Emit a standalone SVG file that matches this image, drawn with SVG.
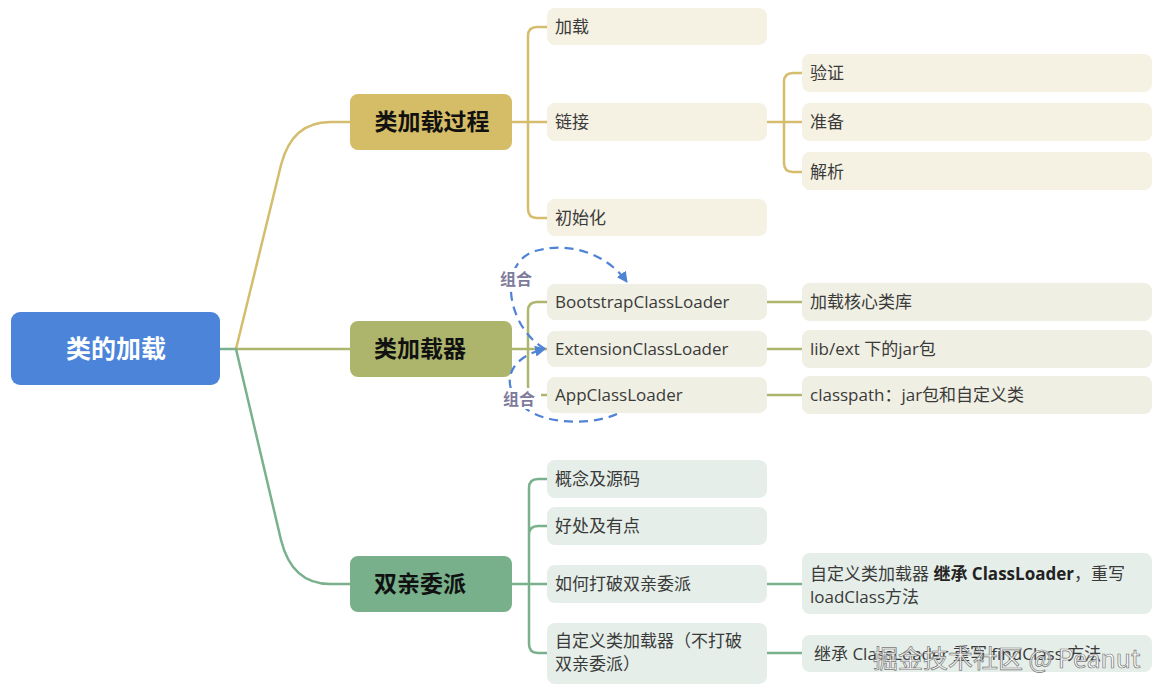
<svg xmlns="http://www.w3.org/2000/svg" width="1165" height="691" viewBox="0 0 1165 691">
<style>
.t{font-family:"Open Sans","Noto Sans CJK SC",sans-serif;font-size:17px;fill:#3a3a3a}
.h{font-family:"Noto Sans CJK SC","Noto Sans",sans-serif;font-size:23px;font-weight:bold;fill:#111}
.ln{fill:none;stroke-width:2.5;stroke-linecap:round}
.y{stroke:#D4BD6C}.o{stroke:#AEB56D}.g{stroke:#79B18C}
.cy{fill:#F5F1E3}.co{fill:#EFEFE3}.cg{fill:#E5EEE8}
.rel{fill:none;stroke:#4F83D6;stroke-width:2.2;stroke-dasharray:9 6}
.lb{font-family:"Noto Sans CJK SC",sans-serif;font-size:16px;font-weight:bold;fill:#7E7A9C}
</style>
<defs>
<marker id="ah" viewBox="0 0 10 10" refX="9" refY="5" markerWidth="5" markerHeight="5" orient="auto" markerUnits="strokeWidth">
<path d="M0 0L10 5L0 10z" fill="#4F83D6"/>
</marker>
</defs>
<rect width="1165" height="691" fill="#fff"/>
<g id="connectors">
<path class="ln g" d="M220 349H236"/>
<path class="ln y" d="M236 349L281 165Q292 122 330 122H350"/>
<path class="ln o" d="M236 349H350"/>
<path class="ln g" d="M236 349L281 540Q292 584 330 584H350"/>
<path class="ln y" d="M512 122H547M547 27H537Q528 27 528 36V209Q528 218 537 218H547"/>
<path class="ln y" d="M767 122H802M802 73H793Q784 73 784 82V163Q784 172 793 172H802"/>
<path class="ln o" d="M512 349H547M547 302H537Q528 302 528 311V386Q528 395 537 395H547"/>
<path class="ln o" d="M767 302H802M767 349H802M767 395H802"/>
<path class="ln g" d="M512 584H547M547 479H538Q529 479 529 488V644Q529 653 538 653H547M529 535Q529 526 538 526H547"/>
<path class="ln g" d="M767 584H802M767 653H802"/>
</g>
<g id="root"><rect x="11" y="312" width="209" height="73" rx="9" fill="#4C84DA"/><text x="116" y="358" text-anchor="middle" font-family="Noto Sans CJK SC,sans-serif" font-size="25" font-weight="bold" fill="#fff">类的加载</text></g>
<g id="n-process"><rect x="350" y="94" width="162" height="56" rx="8" fill="#D5BC67"/><text class="h" x="432" y="130" text-anchor="middle">类加载过程</text></g>
<g id="n-loader"><rect x="350" y="321" width="162" height="56" rx="8" fill="#ADB56C"/><text class="h" x="420" y="357" text-anchor="middle">类加载器</text></g>
<g id="n-parent"><rect x="350" y="556" width="162" height="56" rx="8" fill="#77B08A"/><text class="h" x="420" y="592" text-anchor="middle">双亲委派</text></g>

<g id="n-load"><rect class="cy" x="547" y="8" width="220" height="37" rx="8"/><text class="t" x="555" y="33">加载</text></g>
<g id="n-link"><rect class="cy" x="547" y="103" width="220" height="38" rx="8"/><text class="t" x="555" y="128">链接</text></g>
<g id="n-init"><rect class="cy" x="547" y="199" width="220" height="37" rx="8"/><text class="t" x="555" y="224">初始化</text></g>
<g id="n-verify"><rect class="cy" x="802" y="54" width="350" height="38" rx="8"/><text class="t" x="810" y="79">验证</text></g>
<g id="n-prepare"><rect class="cy" x="802" y="103" width="350" height="38" rx="8"/><text class="t" x="810" y="128">准备</text></g>
<g id="n-resolve"><rect class="cy" x="802" y="152" width="350" height="38" rx="8"/><text class="t" x="810" y="178">解析</text></g>

<g id="n-boot"><rect class="co" x="547" y="284" width="220" height="36" rx="8"/><text class="t" x="555" y="308">BootstrapClassLoader</text></g>
<g id="n-ext"><rect class="co" x="547" y="331" width="220" height="36" rx="8"/><text class="t" x="555" y="355">ExtensionClassLoader</text></g>
<g id="n-app"><rect class="co" x="547" y="377" width="220" height="36" rx="8"/><text class="t" x="555" y="401">AppClassLoader</text></g>
<g id="n-core"><rect class="co" x="802" y="283" width="350" height="38" rx="8"/><text class="t" x="810" y="308">加载核心类库</text></g>
<g id="n-libext"><rect class="co" x="802" y="330" width="350" height="38" rx="8"/><text class="t" x="810" y="355">lib/ext 下的jar包</text></g>
<g id="n-cp"><rect class="co" x="802" y="376" width="350" height="38" rx="8"/><text class="t" x="810" y="401">classpath：jar包和自定义类</text></g>

<g id="n-concept"><rect class="cg" x="547" y="460" width="220" height="38" rx="8"/><text class="t" x="555" y="485">概念及源码</text></g>
<g id="n-benefit"><rect class="cg" x="547" y="507" width="220" height="38" rx="8"/><text class="t" x="555" y="532">好处及有点</text></g>
<g id="n-break"><rect class="cg" x="547" y="565" width="220" height="38" rx="8"/><text class="t" x="555" y="590">如何打破双亲委派</text></g>
<g id="n-custom"><rect class="cg" x="547" y="623" width="220" height="61" rx="8"/><text class="t" x="555" y="647">自定义类加载器（不打破</text><text class="t" x="555" y="670">双亲委派）</text></g>
<g id="n-break-how"><rect class="cg" x="802" y="553" width="350" height="61" rx="8"/><text class="t" x="810" y="580">自定义类加载器 <tspan font-weight="bold" fill="#222">继承 ClassLoader</tspan>，重写</text><text class="t" x="810" y="603">loadClass方法</text></g>
<g id="n-custom-how"><rect class="cg" x="802" y="635" width="350" height="37" rx="8"/><text class="t" x="814" y="660">继承 ClassLoader 重写 findClass 方法</text></g>

<g id="relations">
<path class="rel" d="M545 349C508 328 496 264 535 251C575 240 610 258 627 282" marker-end="url(#ah)"/>
<path class="rel" d="M617 414C590 426 545 424 525 408C500 388 505 358 545 349" marker-end="url(#ah)"/>
<rect x="496" y="268" width="42" height="21" fill="#fff"/>
<text class="lb" x="516" y="285" text-anchor="middle">组合</text>
<rect x="499" y="388" width="42" height="21" fill="#fff"/>
<text class="lb" x="519" y="405" text-anchor="middle">组合</text>
</g>
<text x="873" y="668" font-family="Noto Sans CJK SC,sans-serif" font-size="25" fill="#fff" fill-opacity="0.85" stroke="#777" stroke-width="0.7">掘金技术社区 @ Peanut</text>
</svg>
